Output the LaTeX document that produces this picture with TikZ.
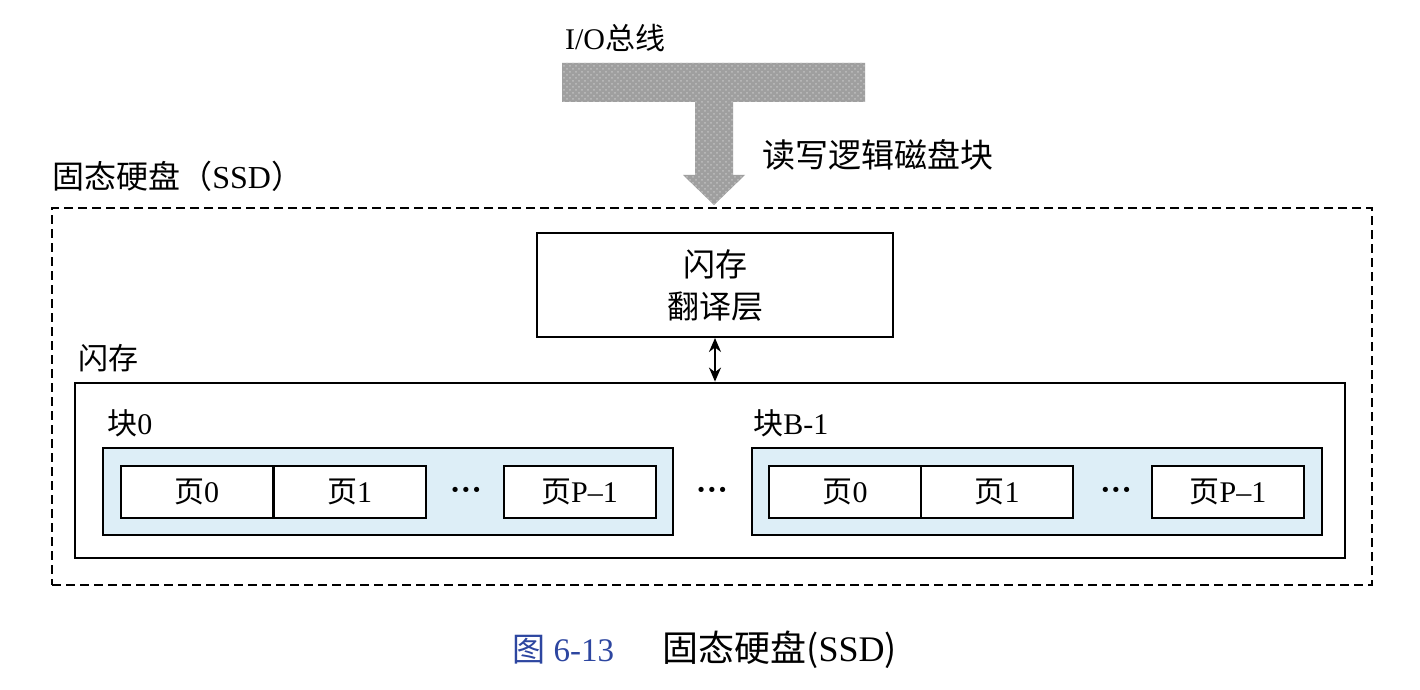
\documentclass[tikz,border=0pt]{standalone}
\usepackage{fontspec}
\setmainfont{Liberation Serif}
\newfontfamily\cjk{Noto Sans CJK SC}
\usetikzlibrary{arrows.meta,patterns}
\definecolor{blockblue}{RGB}{221,238,247}
\definecolor{capblue}{RGB}{45,70,160}
\tikzset{
  lbl/.style={inner sep=0pt, font=\fontsize{15}{18}\selectfont},
  ftlbox/.style={draw, line width=1pt, inner sep=0pt, align=center,
    font=\fontsize{16}{22}\selectfont},
  flashbox/.style={draw, line width=1.4pt, inner sep=0pt},
  blockbox/.style={draw, line width=1pt, fill=blockblue, inner sep=0pt,
    minimum width=285pt, minimum height=43.5pt},
  pagebox/.style={draw, line width=1pt, fill=white, inner sep=0pt,
    minimum width=76pt, minimum height=26pt, font=\fontsize{15}{18}\selectfont},
  ssdbox/.style={draw, line width=0.9pt, dash pattern=on 4.5pt off 2.5pt, inner sep=0pt},
  dotsl/.style={inner sep=0pt, font=\fontsize{16}{18}\selectfont\bfseries},
  busfill/.style={fill=gray!75, postaction={pattern=crosshatch dots, pattern color=white!50!gray}},
}
\begin{document}
\begin{tikzpicture}[x=0.5pt, y=-0.5pt]
  \useasboundingbox[fill=white] (0,0) rectangle (1420,690);

  % I/O bus with the read/write arrow going down into the drive
  \node[lbl] (buslbl) at (615,38) {I/O{\cjk 总线}};
  \path[busfill] (562,63) -- (865,63) -- (865,102) -- (733,102) -- (733,175)
    -- (745,175) -- (714,205) -- (683,175) -- (695,175) -- (695,102)
    -- (562,102) -- cycle;
  \node[lbl, font=\fontsize{16.5}{20}\selectfont\cjk] (rwlbl) at (878,155) {读写逻辑磁盘块};

  % solid state drive outline
  \node[lbl, anchor=west, font=\fontsize{16}{20}\selectfont] (ssdlbl) at (52,176)
    {{\cjk 固态硬盘（}SSD{\cjk ）}};
  \node[ssdbox, minimum width=660pt, minimum height=188.5pt] (ssd) at (712,396.5) {};

  % flash translation layer
  \node[ftlbox, minimum width=178pt, minimum height=52pt, font=\fontsize{16}{21}\selectfont\cjk]
    (ftl) at (715,285) {闪存\\翻译层};

  % flash memory
  \node[lbl, anchor=west, font=\fontsize{15}{18}\selectfont\cjk] (flashlbl) at (78,358) {闪存};
  \node[flashbox, minimum width=635pt, minimum height=87.5pt] (flash) at (710,470.5) {};
  \draw[line width=1pt, {Stealth[length=7pt,width=6pt]}-{Stealth[length=7pt,width=6pt]}]
    (ftl.south) -- (ftl.south |- flash.north);

  % block 0
  \node[lbl, anchor=west] (b0lbl) at (107,423) {{\cjk 块}0};
  \node[blockbox] (b0) at (388,491.5) {};
  \node[pagebox] (b0p0) at (196.5,492) {{\cjk 页}0};
  \node[pagebox] (b0p1) at (349.5,492) {{\cjk 页}1};
  \node[dotsl] (b0dots) at (466,494) {···};
  \node[pagebox] (b0pn) at (579.5,492) {{\cjk 页}P--1};

  \node[dotsl] (middots) at (712,494) {···};

  % block B-1
  \node[lbl, anchor=west] (bnlbl) at (753,423) {{\cjk 块}B-1};
  \node[blockbox] (bn) at (1036.5,491.5) {};
  \node[pagebox] (bnp0) at (845,492) {{\cjk 页}0};
  \node[pagebox] (bnp1) at (997,492) {{\cjk 页}1};
  \node[dotsl] (bndots) at (1116,494) {···};
  \node[pagebox] (bnpn) at (1228,492) {{\cjk 页}P--1};

  % caption
  \node[lbl, anchor=west, text=capblue, font=\fontsize{16.5}{20}\selectfont] (capnum) at (512,650)
    {{\cjk 图} 6-13};
  \node[lbl, anchor=west, font=\fontsize{18}{20}\selectfont] (captxt) at (662,650)
    {{\cjk 固态硬盘(}SSD{\cjk )}};
\end{tikzpicture}
\end{document}
